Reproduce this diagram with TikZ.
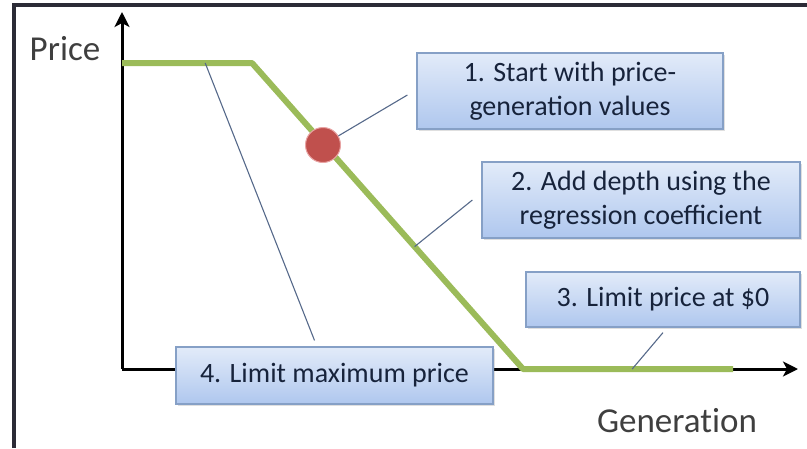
\documentclass[tikz,border=0pt]{standalone}
\usepackage{fontspec}
\setmainfont{Carlito}
\newfontfamily\axisfont{Carlito}[Ligatures=NoCommon]
\usetikzlibrary{arrows.meta,calc,shadows}
\definecolor{framegray}{HTML}{2B2B36}
\definecolor{curvegreen}{HTML}{9BBB59}
\definecolor{dotred}{HTML}{C0504D}
\definecolor{dotrim}{HTML}{E8A3A3}
\definecolor{linkblue}{HTML}{56698A}
\definecolor{boxtop}{HTML}{E2EBF9}
\definecolor{boxbottom}{HTML}{AFC7EE}
\definecolor{boxrim}{HTML}{86A0C6}
\definecolor{boxtext}{HTML}{17233B}
\definecolor{labelgray}{HTML}{3F3F3F}

\begin{document}
\begin{tikzpicture}[x=1pt,y=-1pt,
	axis/.style={line width=3pt,-{Stealth[length=15pt,width=15pt,inset=4pt]}},
	curve/.style={curvegreen,line width=6pt,line join=round},
	link/.style={linkblue,line width=1.1pt},
	stepbox/.style={draw=boxrim,line width=1.2pt,top color=boxtop,bottom color=boxbottom,
		text=boxtext,align=center,inner sep=0pt,minimum height=#1,
		font=\fontsize{28}{34}\selectfont,
		drop shadow={shadow xshift=2pt,shadow yshift=-2pt,opacity=0.25,fill=gray}},
	axislabel/.style={text=labelgray,font=\axisfont\fontsize{35}{40}\selectfont,inner sep=0pt,anchor=base}]
			\useasboundingbox (0,0) rectangle (807,448);
			%%Frame
			\draw[framegray,line width=3.5pt] (14,448) -- (14,5) -- (807,5);
			%%Axes
			\coordinate (O) at (122,369);
			\coordinate (ytop) at (122,12);
			\coordinate (xend) at (798,369);
			\draw[axis] (O) -- (ytop);
			\draw[axis] (O) -- (xend);
			\node[axislabel] (price) at (65,60) {Price};
			\node[axislabel] (gen) at (677,432) {Generation};
			%%Price curve
			\coordinate (p0) at (122,63);
			\coordinate (p1) at (252,63);
			\coordinate (p2) at (523,369);
			\coordinate (p3) at (733,369);
			\draw[curve] (p0) -- (p1) -- (p2) -- (p3);
			%%Steps
			\node[stepbox=76pt,minimum width=306pt] (start) at (570,91) {1. Start with price-\\generation values};
			\node[stepbox=76pt,minimum width=318pt] (depth) at (641,200) {2. Add depth using the\\regression coefficient};
			\node[stepbox=55pt,minimum width=274pt] (zero) at (663,299.5) {3. Limit price at \$0};
			\node[stepbox=57pt,minimum width=317pt] (cap) at (334.5,375.5) {4. Limit maximum price};
			%%Links
			\node[circle,fill=dotred,draw=dotrim,line width=1pt,minimum size=35pt,inner sep=0pt] (dot) at (323,145) {};
			\coordinate (g2) at ($(p1)!0.6!(p2)$);
			\coordinate (g3) at ($(p2)!0.52!(p3)$);
			\coordinate (g4) at ($(p0)!0.64!(p1)$);
			\coordinate (c1) at ([xshift=-9pt,yshift=-4pt]start.west);
			\coordinate (c2) at ([xshift=-9pt]depth.west);
			\coordinate (c3) at ([yshift=-5pt]zero.south);
			\coordinate (c4) at ([xshift=-20pt,yshift=6pt]cap.north);
			\draw[link] (dot) -- (c1);
			\draw[link] (g2) -- (c2);
			\draw[link] (g3) -- (c3);
			\draw[link] (g4) -- (c4);
\end{tikzpicture}
\end{document}
